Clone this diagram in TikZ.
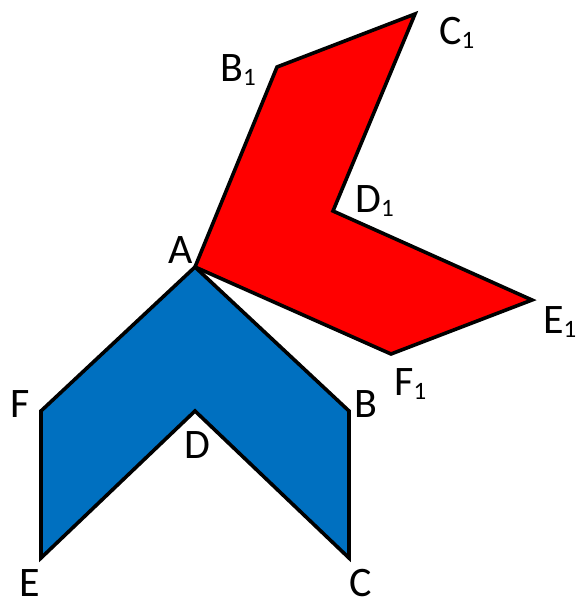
\documentclass[tikz,border=0pt]{standalone}
\usepackage{fontspec}
\setmainfont{Carlito}
\definecolor{shapeblue}{RGB}{0,112,192}
\definecolor{shapered}{RGB}{255,0,0}
\newcommand{\subone}{\raisebox{-4pt}{\fontsize{25}{25}\selectfont 1}}
\begin{document}
\begin{tikzpicture}[x=1pt,y=-1pt,
  shapeline/.style={draw=black,line width=3.6pt,line join=miter},
  vlabel/.style={anchor=base west,inner sep=0pt,font=\fontsize{42}{42}\selectfont}]
\useasboundingbox (0,0) rectangle (579,601);
% vertices
\coordinate (A) at (195,267);
\coordinate (B) at (349,411);
\coordinate (C) at (349,558);
\coordinate (D) at (195,411);
\coordinate (E) at (41,558);
\coordinate (F) at (41,411);
\coordinate (B1) at (277,67);
\coordinate (C1) at (415,14);
\coordinate (D1) at (333,211);
\coordinate (E1) at (532,300);
\coordinate (F1) at (391,354);
% labels
\node[vlabel] (lA) at (168,263) {A};
\node[vlabel] (lB) at (354,417) {B};
\node[vlabel] (lC) at (349,596) {C};
\node[vlabel] (lD) at (184,458) {D};
\node[vlabel] (lE) at (19,596) {E};
\node[vlabel] (lF) at (10,417) {F};
\node[vlabel] (lB1) at (220,82) {B\subone};
\node[vlabel] (lC1) at (439,45) {C\subone};
\node[vlabel] (lD1) at (355,213) {D\subone};
\node[vlabel] (lE1) at (543,333) {E\subone};
\node[vlabel] (lF1) at (394,395) {F\subone};
% shapes
\draw[shapeline,fill=shapeblue] (A) -- (B) -- (C) -- (D) -- (E) -- (F) -- cycle;
\draw[shapeline,fill=shapered] (A) -- (B1) -- (C1) -- (D1) -- (E1) -- (F1) -- cycle;
\end{tikzpicture}
\end{document}
